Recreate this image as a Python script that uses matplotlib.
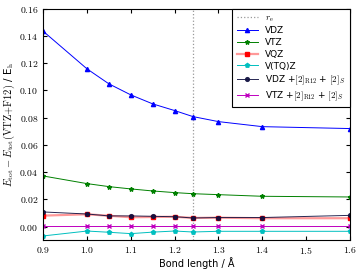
import matplotlib
matplotlib.use("Agg")
import matplotlib.pyplot as plt
from matplotlib import ticker

plt.rcParams["mathtext.fontset"] = "cm"
plt.rcParams["font.family"] = "DejaVu Sans"

r_e = 1.2415
bond = [0.9, 1.0, 1.05, 1.1, 1.15, 1.2, 1.2415, 1.3, 1.4, 1.6]
vdz = [0.1434, 0.1158, 0.1048, 0.0967, 0.0901, 0.0852, 0.0808, 0.0771, 0.0734, 0.0720]
vtz = [0.0372, 0.0316, 0.0294, 0.0277, 0.0262, 0.0250, 0.0242, 0.0235, 0.0223, 0.0218]
vqz = [0.0081, 0.0091, 0.0080, 0.0069, 0.0071, 0.0073, 0.0064, 0.0066, 0.0062, 0.0062]
vtqz = [-0.0068, -0.0032, -0.0041, -0.0051, -0.0040, -0.0032, -0.0039, -0.0034, -0.0034, -0.0034]
vdz_r12 = [0.0108, 0.0093, 0.0079, 0.0079, 0.0076, 0.0073, 0.0064, 0.0067, 0.0067, 0.0083]
vtz_r12 = [0.0002, 0.0002, 0.0002, 0.0002, 0.0002, 0.0002, 0.0002, 0.0002, 0.0002, 0.0002]

fig, ax = plt.subplots(figsize=(3.6, 2.7), dpi=100)
ax.axvline(r_e, color="0.6", ls=":", lw=0.9, label=r"$r_{\rm e}$")
ax.plot(bond, vdz, "^-", color="blue", lw=0.7, ms=3, label="VDZ")
ax.plot(bond, vtz, "*-", color="green", lw=0.7, ms=3.2, label="VTZ")
ax.plot(bond, vqz, "-", color="red", lw=1.6, alpha=0.4)
ax.plot(bond, vqz, "s", color="red", ms=3)
ax.plot([], [], "s-", color=(1, 0.6, 0.6), lw=1.6, ms=3, label="VQZ",
        markerfacecolor="red", markeredgecolor="red")
ax.plot(bond, vtqz, "p-", color="c", lw=0.7, ms=3, label="V(TQ)Z")
ax.plot(bond, vdz_r12, "o-", color="#101040", lw=0.7, ms=2.7, alpha=0.9,
        label=r"VDZ +$[2]_{\rm R12}$ + $[2]_S$")
ax.plot(bond, vtz_r12, "x-", color="m", lw=0.7, ms=3,
        label=r"VTZ +$[2]_{\rm R12}$ + $[2]_S$")

ax.set_xlim(0.9, 1.6)
ax.set_ylim(-0.01, 0.16)
ax.xaxis.set_major_locator(ticker.MultipleLocator(0.1))
ax.yaxis.set_major_locator(ticker.MultipleLocator(0.02))
ax.xaxis.set_major_formatter(ticker.FuncFormatter(lambda v, p: f"${v:.1f}$"))
ax.yaxis.set_major_formatter(ticker.FuncFormatter(lambda v, p: f"${v:.2f}$"))
ax.tick_params(direction="in", top=True, right=True, labelsize=7, length=3)
ax.set_xlabel("Bond length / Å", fontsize=7, labelpad=1)
ax.set_ylabel(r"$E_{\rm tot} - E_{\rm tot}({\rm VTZ{+}F12})$ / E$_{\rm h}$", fontsize=7.5, labelpad=2)
leg = ax.legend(loc="upper right", fontsize=6.5, fancybox=False, edgecolor="black",
                framealpha=1, handlelength=2.3, handletextpad=0.8, borderaxespad=0,
                labelspacing=0.3, borderpad=0.5)
leg.get_frame().set_linewidth(0.8)

fig.subplots_adjust(left=0.12, right=0.972, top=0.968, bottom=0.11)
fig.savefig("out.png", dpi=100)
